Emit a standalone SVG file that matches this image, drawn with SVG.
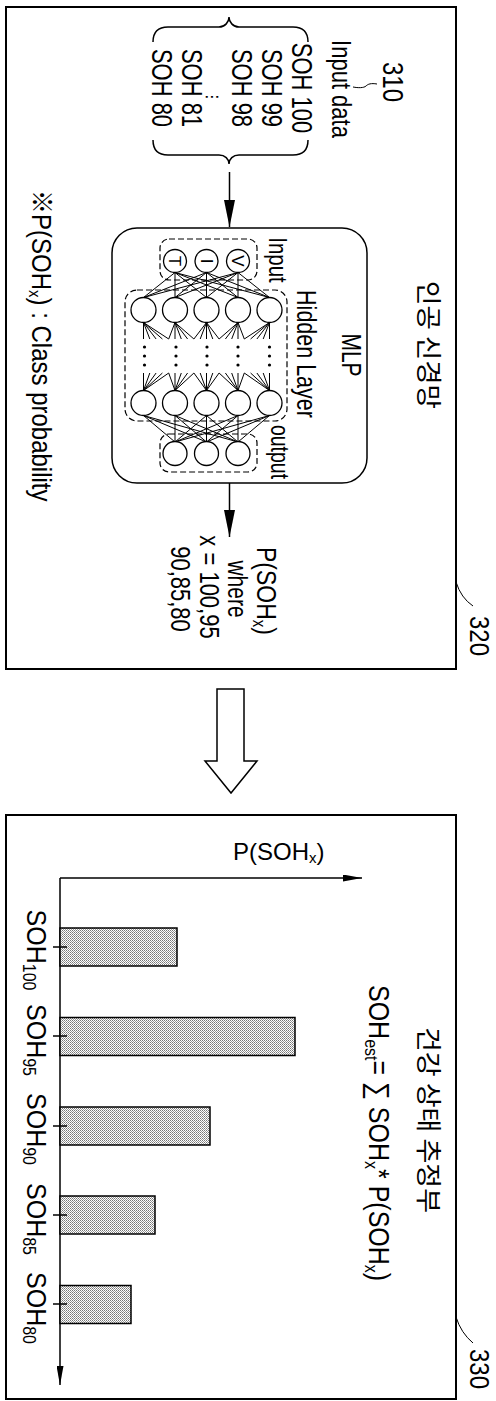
<svg xmlns="http://www.w3.org/2000/svg" width="496" height="1401" viewBox="0 0 496 1401">
<style>
  text { font-family: "Liberation Sans", Arial, "Noto Sans CJK KR", sans-serif; fill: #000; }
  .kr { font-family: "Noto Sans CJK KR", sans-serif; }
  .box { fill: none; stroke: #000; stroke-width: 2; }
  .mlp { fill: none; stroke: #000; stroke-width: 1.5; }
  .dash { fill: none; stroke: #000; stroke-width: 1.2; stroke-dasharray: 6 3; }
  .node { fill: #fff; stroke: #000; stroke-width: 1.3; }
  .ln { stroke: #000; stroke-width: 1; fill: none; }
  .thin { stroke: #000; stroke-width: 1.5; fill: none; }
  .bar { fill: url(#dots); stroke: #000; stroke-width: 1.5; }
</style>
<defs>
  <marker id="ahBig" markerWidth="27" markerHeight="11" refX="27" refY="5.5" orient="auto" markerUnits="userSpaceOnUse">
    <path d="M0,0 L27,5.5 L0,11 z" fill="#000"/>
  </marker>
  <marker id="ahSmall" markerWidth="19" markerHeight="7" refX="19" refY="3.5" orient="auto" markerUnits="userSpaceOnUse">
    <path d="M0,0 L19,3.5 L0,7 z" fill="#000"/>
  </marker>
  <pattern id="dots" width="2" height="2" patternUnits="userSpaceOnUse">
    <rect width="2" height="2" fill="#fff"/>
    <rect width="1" height="1" fill="#777"/>
    <rect x="1" y="1" width="1" height="1" fill="#999"/>
  </pattern>
</defs>

<!-- Artificial neural network block (320) -->
<g id="ann-block">
  <rect class="box" x="6" y="7" width="450" height="662"/>
  <text class="kr" font-size="26" text-anchor="middle" textLength="128" lengthAdjust="spacingAndGlyphs" transform="translate(419,345) rotate(90)">인공 신경망</text>
  <text font-size="24" text-anchor="start" transform="translate(32,190) rotate(90) scale(1,1.16)">※P(SOH<tspan font-size="15" dy="3">x</tspan><tspan dy="-3">) : Class probability</tspan></text>
</g>

<g id="label-320">
  <path class="ln" d="M456,582 Q461,598 473,606"/>
  <text font-size="24" text-anchor="middle" transform="translate(470,636) rotate(90) scale(1,1.15)">320</text>
</g>

<!-- Input data (310) -->
<g id="input-data">
  <text font-size="24" text-anchor="middle" transform="translate(383,82) rotate(90) scale(1,1.25)">310</text>
  <path class="ln" d="M377,84 C371,83 368,84 366,86 C364,88 358,88 353,87"/>
  <text font-size="22" text-anchor="middle" transform="translate(332,89) rotate(90) scale(1,1.25)">Input data</text>
  <path class="thin" d="M153,42 C153,32 158,27 168,27 L219,27 C225,27 229,22 229,17 C229,22 233,27 239,27 L293,27 C303,27 308,32 308,42"/>
  <text font-size="22" text-anchor="middle" transform="translate(292,88) rotate(90) scale(1,1.3)">SOH 100</text>
  <text font-size="22" text-anchor="middle" transform="translate(262,88) rotate(90) scale(1,1.3)">SOH 99</text>
  <text font-size="22" text-anchor="middle" transform="translate(232,88) rotate(90) scale(1,1.3)">SOH 98</text>
  <text font-size="16" text-anchor="middle" style="font-family:'DejaVu Sans',sans-serif" transform="translate(207,97) rotate(90)">⋮</text>
  <text font-size="22" text-anchor="middle" transform="translate(182,88) rotate(90) scale(1,1.3)">SOH 81</text>
  <text font-size="22" text-anchor="middle" transform="translate(152,88) rotate(90) scale(1,1.3)">SOH 80</text>
  <path class="thin" d="M153,140 C153,150 158,155 168,155 L219,155 C225,155 229,159 229,164 C229,159 233,155 239,155 L293,155 C303,155 308,150 308,140"/>
</g>

<!-- MLP -->
<g id="mlp">
  <rect class="mlp" x="112" y="228" width="255" height="255" rx="25"/>
  <text font-size="21" text-anchor="middle" transform="translate(342,355) rotate(90) scale(1,1.35)">MLP</text>
  <text font-size="21.5" text-anchor="middle" transform="translate(297,354) rotate(90) scale(1,1.3)">Hidden Layer</text>
  <text font-size="20.5" text-anchor="middle" transform="translate(269,260) rotate(90) scale(1,1.3)">Input</text>
  <text font-size="19.5" text-anchor="middle" transform="translate(271,452) rotate(90) scale(1,1.3)">output</text>

  <rect class="dash" x="160" y="239" width="97" height="41" rx="9"/>
  <rect class="dash" x="125" y="290" width="162" height="131" rx="12"/>
  <rect class="dash" x="160" y="434" width="97" height="38" rx="9"/>

  <g id="mlp-links">
    <path class="ln" d="M175,272.5L143.5,297.5M175,272.5L175,297.5M175,272.5L206.5,297.5M175,272.5L238,297.5M175,272.5L269.5,297.5
      M206.5,272.5L143.5,297.5M206.5,272.5L175,297.5M206.5,272.5L206.5,297.5M206.5,272.5L238,297.5M206.5,272.5L269.5,297.5
      M238,272.5L143.5,297.5M238,272.5L175,297.5M238,272.5L206.5,297.5M238,272.5L238,297.5M238,272.5L269.5,297.5"/>
    <path class="ln" d="M143.5,322.5L143.5,339M143.5,322.5L149.8,339M143.5,322.5L156.1,339M143.5,322.5L162.4,339M143.5,322.5L168.7,339
      M175,322.5L168.7,339M175,322.5L175,339M175,322.5L181.3,339M175,322.5L187.6,339M175,322.5L193.9,339
      M206.5,322.5L193.9,339M206.5,322.5L200.2,339M206.5,322.5L206.5,339M206.5,322.5L212.8,339M206.5,322.5L219.1,339
      M238,322.5L219.1,339M238,322.5L225.4,339M238,322.5L231.7,339M238,322.5L238,339M238,322.5L244.3,339
      M269.5,322.5L244.3,339M269.5,322.5L250.6,339M269.5,322.5L256.9,339M269.5,322.5L263.2,339M269.5,322.5L269.5,339"/>
    <path class="ln" d="M143.5,373L143.5,390.5M149.8,373L143.5,390.5M156.1,373L143.5,390.5M162.4,373L143.5,390.5M168.7,373L143.5,390.5
      M168.7,373L175,390.5M175,373L175,390.5M181.3,373L175,390.5M187.6,373L175,390.5M193.9,373L175,390.5
      M193.9,373L206.5,390.5M200.2,373L206.5,390.5M206.5,373L206.5,390.5M212.8,373L206.5,390.5M219.1,373L206.5,390.5
      M219.1,373L238,390.5M225.4,373L238,390.5M231.7,373L238,390.5M238,373L238,390.5M244.3,373L238,390.5
      M244.3,373L269.5,390.5M250.6,373L269.5,390.5M256.9,373L269.5,390.5M263.2,373L269.5,390.5M269.5,373L269.5,390.5"/>
    <path class="ln" d="M143.5,415.5L175,442M175,415.5L175,442M206.5,415.5L175,442M238,415.5L175,442M269.5,415.5L175,442
      M143.5,415.5L206.5,442M175,415.5L206.5,442M206.5,415.5L206.5,442M238,415.5L206.5,442M269.5,415.5L206.5,442
      M143.5,415.5L238,442M175,415.5L238,442M206.5,415.5L238,442M238,415.5L238,442M269.5,415.5L238,442"/>
  </g>

  <g id="mlp-dots" fill="#000">
    <circle cx="144.5" cy="347" r="1.6"/><circle cx="144.5" cy="356" r="1.6"/><circle cx="144.5" cy="365" r="1.6"/>
    <circle cx="176" cy="347" r="1.6"/><circle cx="176" cy="356" r="1.6"/><circle cx="176" cy="365" r="1.6"/>
    <circle cx="207" cy="347" r="1.6"/><circle cx="207" cy="356" r="1.6"/><circle cx="207" cy="365" r="1.6"/>
    <circle cx="238" cy="347" r="1.6"/><circle cx="238" cy="356" r="1.6"/><circle cx="238" cy="365" r="1.6"/>
    <circle cx="269.5" cy="347" r="1.6"/><circle cx="269.5" cy="356" r="1.6"/><circle cx="269.5" cy="365" r="1.6"/>
  </g>

  <g id="node-in-T"><circle class="node" cx="175" cy="261" r="11.5"/><text font-size="17" text-anchor="middle" transform="translate(169,261) rotate(90)">T</text></g>
  <g id="node-in-I"><circle class="node" cx="206.5" cy="261" r="11.5"/><text font-size="17" text-anchor="middle" transform="translate(200.5,261) rotate(90)">I</text></g>
  <g id="node-in-V"><circle class="node" cx="238" cy="261" r="11.5"/><text font-size="17" text-anchor="middle" transform="translate(232,261) rotate(90)">V</text></g>

  <g id="node-h1-1"><circle class="node" cx="143.5" cy="310" r="12.5"/></g>
  <g id="node-h1-2"><circle class="node" cx="175" cy="310" r="12.5"/></g>
  <g id="node-h1-3"><circle class="node" cx="206.5" cy="310" r="12.5"/></g>
  <g id="node-h1-4"><circle class="node" cx="238" cy="310" r="12.5"/></g>
  <g id="node-h1-5"><circle class="node" cx="269.5" cy="310" r="12.5"/></g>

  <g id="node-h2-1"><circle class="node" cx="143.5" cy="403" r="12.5"/></g>
  <g id="node-h2-2"><circle class="node" cx="175" cy="403" r="12.5"/></g>
  <g id="node-h2-3"><circle class="node" cx="206.5" cy="403" r="12.5"/></g>
  <g id="node-h2-4"><circle class="node" cx="238" cy="403" r="12.5"/></g>
  <g id="node-h2-5"><circle class="node" cx="269.5" cy="403" r="12.5"/></g>

  <g id="node-out-1"><circle class="node" cx="175" cy="453.5" r="12"/></g>
  <g id="node-out-2"><circle class="node" cx="206.5" cy="453.5" r="12"/></g>
  <g id="node-out-3"><circle class="node" cx="238" cy="453.5" r="12"/></g>
</g>

<!-- Output probability -->
<g id="output-prob">
  <text font-size="23" text-anchor="middle" transform="translate(257,591) rotate(90) scale(1,1.2)">P(SOH<tspan font-size="15" dy="3">x</tspan><tspan dy="-3">)</tspan></text>
  <text font-size="21" text-anchor="middle" transform="translate(228,589) rotate(90) scale(1,1.3)">where</text>
  <text font-size="22" text-anchor="middle" transform="translate(200,587) rotate(90) scale(1,1.25)">x = 100,95</text>
  <text font-size="22" text-anchor="middle" transform="translate(171,589) rotate(90) scale(1,1.25)">90,85,80</text>
</g>

<!-- Connectors -->
<g id="connectors">
  <line class="thin" x1="229.5" y1="172" x2="229.5" y2="227" marker-end="url(#ahBig)"/>
  <line class="thin" x1="229.5" y1="483" x2="229.5" y2="537" marker-end="url(#ahBig)"/>
  <polygon points="217,689 244,689 244,761 257,761 231,793 205,761 217,761" fill="#fff" stroke="#000" stroke-width="1.5"/>
</g>

<!-- Health state estimator block (330) -->
<g id="soh-block">
  <rect class="box" x="6" y="815" width="450" height="584"/>
  <text class="kr" font-size="26" text-anchor="middle" textLength="186" lengthAdjust="spacingAndGlyphs" transform="translate(419,1120) rotate(90)">건강 상태 추정부</text>
  <text font-size="25" text-anchor="start" transform="translate(369,985) rotate(90) scale(1,1.15)">SOH<tspan font-size="16" dy="3.5">est</tspan><tspan dy="-3.5">= ∑ SOH</tspan><tspan font-size="16" dy="3.5">x</tspan><tspan dy="-3.5">* P(SOH</tspan><tspan font-size="16" dy="3.5">x</tspan><tspan dy="-3.5">)</tspan></text>
</g>

<g id="label-330">
  <path class="ln" d="M456,1317 Q461,1333 473,1343"/>
  <text font-size="24" text-anchor="middle" transform="translate(470,1369) rotate(90) scale(1,1.15)">330</text>
</g>

<g id="chart">
  <line class="thin" x1="60" y1="878" x2="362" y2="878" marker-end="url(#ahSmall)"/>
  <line class="thin" x1="60" y1="878" x2="60" y2="1385" marker-end="url(#ahSmall)"/>
  <text font-size="24" x="233" y="860">P(SOH<tspan font-size="15" dy="3">x</tspan><tspan dy="-3">)</tspan></text>

  <g id="bar-100">
    <rect class="bar" x="60" y="928" width="117" height="38"/>
    <line class="thin" x1="53" y1="947" x2="67" y2="947"/>
    <text font-size="25" text-anchor="middle" transform="translate(27,950) rotate(90) scale(1,1.12)">SOH<tspan font-size="16" dy="3.5">100</tspan></text>
  </g>
  <g id="bar-95">
    <rect class="bar" x="60" y="1017.5" width="235" height="38"/>
    <line class="thin" x1="53" y1="1036" x2="67" y2="1036"/>
    <text font-size="25" text-anchor="middle" transform="translate(27,1040) rotate(90) scale(1,1.12)">SOH<tspan font-size="16" dy="3.5">95</tspan></text>
  </g>
  <g id="bar-90">
    <rect class="bar" x="60" y="1107" width="150" height="38"/>
    <line class="thin" x1="53" y1="1126" x2="67" y2="1126"/>
    <text font-size="25" text-anchor="middle" transform="translate(27,1129) rotate(90) scale(1,1.12)">SOH<tspan font-size="16" dy="3.5">90</tspan></text>
  </g>
  <g id="bar-85">
    <rect class="bar" x="60" y="1196" width="95" height="38"/>
    <line class="thin" x1="53" y1="1215" x2="67" y2="1215"/>
    <text font-size="25" text-anchor="middle" transform="translate(27,1219) rotate(90) scale(1,1.12)">SOH<tspan font-size="16" dy="3.5">85</tspan></text>
  </g>
  <g id="bar-80">
    <rect class="bar" x="60" y="1285.5" width="71" height="38"/>
    <line class="thin" x1="53" y1="1304" x2="67" y2="1304"/>
    <text font-size="25" text-anchor="middle" transform="translate(27,1308) rotate(90) scale(1,1.12)">SOH<tspan font-size="16" dy="3.5">80</tspan></text>
  </g>
</g>
</svg>
